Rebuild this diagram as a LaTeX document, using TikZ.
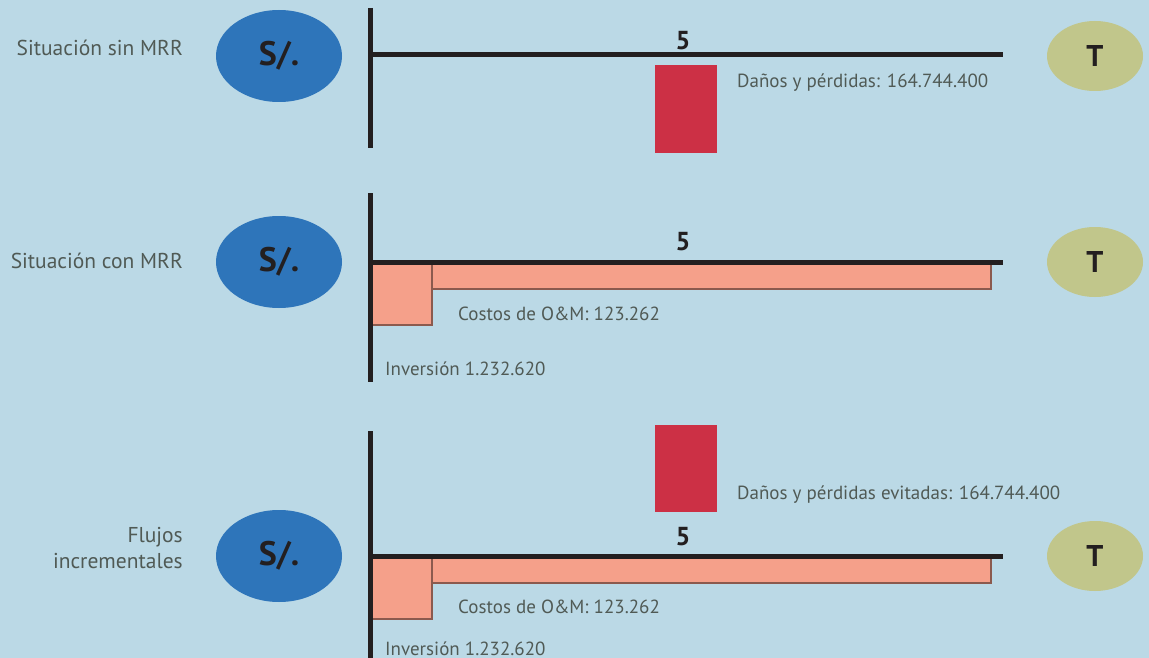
\documentclass[tikz,border=0pt]{standalone}
\usepackage{fontspec}
\setmainfont{PT Sans}
\usetikzlibrary{shapes.geometric}
\definecolor{bg}{HTML}{BBD9E6}
\definecolor{sblue}{HTML}{2E75BA}
\definecolor{tgreen}{HTML}{C1C68B}
\definecolor{axis}{HTML}{231F20}
\definecolor{dred}{HTML}{CC3045}
\definecolor{salmon}{HTML}{F5A08A}
\definecolor{sbrown}{HTML}{8B5A4E}
\definecolor{txt}{HTML}{505A55}
\tikzset{
  lbl/.style={font=\fontsize{19}{22}\selectfont, text=txt, inner sep=0pt},
  side/.style={font=\fontsize{21.5}{25}\selectfont, text=txt, inner sep=0pt, anchor=base east},
  sellipse/.style={ellipse, fill=sblue, minimum width=126pt, minimum height=92pt, inner sep=0pt, font=\fontsize{34}{34}\selectfont\bfseries, text=axis},
  tellipse/.style={ellipse, fill=tgreen, minimum width=96pt, minimum height=70pt, inner sep=0pt, font=\fontsize{30}{30}\selectfont\bfseries, text=axis},
  axisline/.style={draw=axis, line width=5pt},
  five/.style={font=\fontsize{26}{26}\selectfont\bfseries, text=axis, inner sep=0pt, anchor=base},
  loss/.style={fill=dred},
  cost/.style={fill=salmon, draw=sbrown, line width=2pt},
}
\begin{document}
\begin{tikzpicture}[x=1pt,y=-1pt]
\fill[bg] (0,0) rectangle (1149,658);
\useasboundingbox (0,0) rectangle (1149,658);

% Panel 1
\node[side] (l1) at (183,56) {Situación sin MRR};
\node[sellipse] (s1) at (279,56) {S/.};
\node[tellipse] (t1) at (1095,56) {T};
\fill[loss] (655,65) rectangle (717,153);
\coordinate (v1a) at (370,8);
\coordinate (v1b) at (370,148);
\coordinate (h1a) at (370,55);
\coordinate (h1b) at (1003,55);
\draw[axisline] (v1a) -- (v1b);
\draw[axisline] (h1a) -- (h1b);
\node[five] (f1) at (683,50) {5};
\node[lbl, anchor=base west] (d1) at (737,88) {Daños y pérdidas: 164.744.400};

% Panel 2
\node[side] (l2) at (183,268) {Situación con MRR};
\node[sellipse] (s2) at (279,262) {S/.};
\node[tellipse] (t2) at (1095,262) {T};
\draw[cost] (370,262) rectangle (432,325);
\draw[cost] (432,262) rectangle (991,289);
\coordinate (v2a) at (370,193);
\coordinate (v2b) at (370,382);
\coordinate (h2a) at (370,262);
\coordinate (h2b) at (1003,262);
\draw[axisline] (v2a) -- (v2b);
\draw[axisline] (h2a) -- (h2b);
\node[five] (f2) at (683,250) {5};
\node[lbl, anchor=base west] (c2) at (458,320) {Costos de O\&M: 123.262};
\node[lbl, anchor=base west] (i2) at (385,375) {Inversión 1.232.620};

% Panel 3
\node[side] (l3a) at (183,542) {Flujos};
\node[side] (l3b) at (183,568) {incrementales};
\node[sellipse] (s3) at (279,556) {S/.};
\node[tellipse] (t3) at (1095,556) {T};
\fill[loss] (655,425) rectangle (717,512);
\draw[cost] (370,556) rectangle (432,619);
\draw[cost] (432,556) rectangle (991,583);
\coordinate (v3a) at (370,431);
\coordinate (v3b) at (370,660);
\coordinate (h3a) at (370,556);
\coordinate (h3b) at (1003,556);
\draw[axisline] (v3a) -- (v3b);
\draw[axisline] (h3a) -- (h3b);
\node[five] (f3) at (683,545) {5};
\node[lbl, anchor=base west] (d3) at (737,499) {Daños y pérdidas evitadas: 164.744.400};
\node[lbl, anchor=base west] (c3) at (458,613) {Costos de O\&M: 123.262};
\node[lbl, anchor=base west] (i3) at (385,655) {Inversión 1.232.620};
\end{tikzpicture}
\end{document}
